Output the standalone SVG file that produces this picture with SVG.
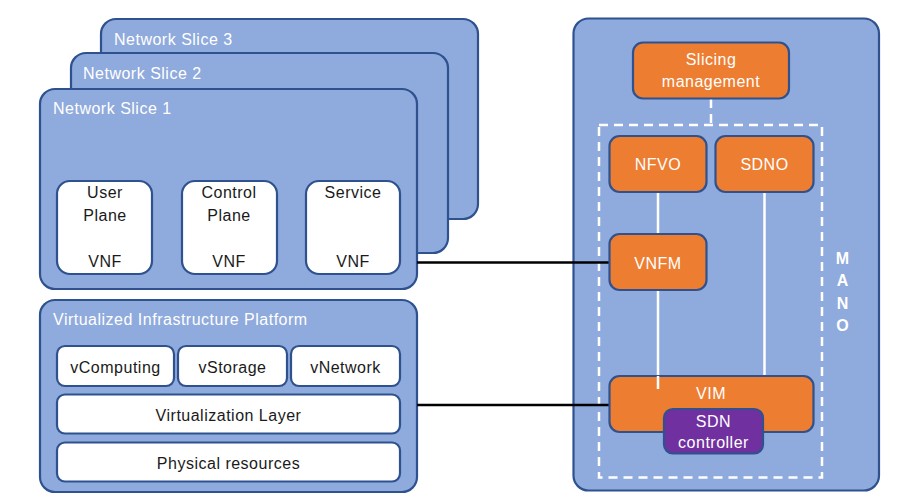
<svg xmlns="http://www.w3.org/2000/svg" width="913" height="500" viewBox="0 0 913 500">
<style>
text{font-family:"Liberation Sans",Arial,sans-serif;font-size:16px;letter-spacing:0.5px}
.blue{fill:#8FAADC;stroke:#2F528F;stroke-width:2.2}
.wbox{fill:#FFFFFF;stroke:#2F528F;stroke-width:2.2}
.obox{fill:#ED7D31;stroke:#2F528F;stroke-width:2.2}
.pbox{fill:#7030A0;stroke:#2F528F;stroke-width:2.2}
.lt{fill:#FFFFFF}
.dk{fill:#1A1A1A;text-anchor:middle}
.wt{fill:#FFFFFF;text-anchor:middle}
.mano{fill:#FFFFFF;text-anchor:middle;font-weight:bold;font-size:16px;letter-spacing:0}
.wline{stroke:#FFFFFF;stroke-width:2.5;fill:none}
.dash{stroke:#FFFFFF;stroke-width:2.5;fill:none;stroke-dasharray:9 6}
.bline{stroke:#000000;stroke-width:2.5;fill:none}
</style>
<rect width="913" height="500" fill="#FFFFFF"/>
<g id="slice3"><rect class="blue" x="101" y="19" width="377" height="200" rx="15"/><text class="lt" x="114" y="45">Network Slice 3</text></g>
<g id="slice2"><rect class="blue" x="71" y="53" width="377" height="200" rx="15"/><text class="lt" x="83" y="79">Network Slice 2</text></g>
<g id="slice1"><rect class="blue" x="40" y="89" width="377" height="200" rx="15"/><text class="lt" x="53" y="114">Network Slice 1</text></g>
<g id="vnf-user"><rect class="wbox" x="57" y="181" width="95" height="93" rx="13"/><text class="dk" x="105" y="198">User</text><text class="dk" x="105" y="221">Plane</text><text class="dk" x="105" y="267">VNF</text></g>
<g id="vnf-control"><rect class="wbox" x="182" y="181" width="95" height="93" rx="13"/><text class="dk" x="229" y="198">Control</text><text class="dk" x="229" y="221">Plane</text><text class="dk" x="229" y="267">VNF</text></g>
<g id="vnf-service"><rect class="wbox" x="306" y="181" width="94" height="93" rx="13"/><text class="dk" x="353" y="198">Service</text><text class="dk" x="353" y="267">VNF</text></g>
<g id="vip"><rect class="blue" x="40" y="300" width="377" height="192" rx="15"/><text class="lt" x="53" y="325">Virtualized Infrastructure Platform</text></g>
<g id="vcomputing"><rect class="wbox" x="57" y="346" width="117" height="40" rx="8"/><text class="dk" x="115.5" y="373">vComputing</text></g>
<g id="vstorage"><rect class="wbox" x="178" y="346" width="109" height="40" rx="8"/><text class="dk" x="232.5" y="373">vStorage</text></g>
<g id="vnetwork"><rect class="wbox" x="291" y="346" width="109" height="40" rx="8"/><text class="dk" x="345.5" y="373">vNetwork</text></g>
<g id="virt-layer"><rect class="wbox" x="57" y="394.5" width="343" height="39" rx="8"/><text class="dk" x="228.5" y="421">Virtualization Layer</text></g>
<g id="phys"><rect class="wbox" x="57" y="442.5" width="343" height="39" rx="8"/><text class="dk" x="228.5" y="468.5">Physical resources</text></g>
<g id="mano-panel"><rect class="blue" x="573.5" y="18.5" width="305.5" height="472" rx="15"/></g>
<g id="mano-frame"><rect class="dash" x="599" y="125" width="223" height="352.5"/><text class="mano" x="842.5" y="263.5">M</text><text class="mano" x="842.5" y="286">A</text><text class="mano" x="842.5" y="308.5">N</text><text class="mano" x="842.5" y="331">O</text></g>
<g id="connectors">
<line class="dash" x1="711" y1="99" x2="711" y2="125"/>
<line class="wline" x1="658" y1="192" x2="658" y2="234"/>
<line class="wline" x1="658" y1="290" x2="658" y2="389"/>
<line class="wline" x1="764.5" y1="192" x2="764.5" y2="376"/>
<line class="bline" x1="417" y1="262.5" x2="609" y2="262.5"/>
<line class="bline" x1="417" y1="405" x2="609" y2="405"/>
</g>
<g id="slicing"><rect class="obox" x="633" y="42.5" width="156" height="56" rx="10"/><text class="wt" x="711" y="65">Slicing</text><text class="wt" x="711" y="87">management</text></g>
<g id="nfvo"><rect class="obox" x="609.5" y="136" width="97" height="56" rx="10"/><text class="wt" x="658" y="170">NFVO</text></g>
<g id="sdno"><rect class="obox" x="715.5" y="136" width="98" height="56" rx="10"/><text class="wt" x="764.5" y="170">SDNO</text></g>
<g id="vnfm"><rect class="obox" x="609.5" y="234" width="97" height="56" rx="10"/><text class="wt" x="658" y="268.5">VNFM</text></g>
<g id="vim"><rect class="obox" x="609.5" y="376" width="204" height="56" rx="10"/><text class="wt" x="711" y="398.5">VIM</text></g>
<line class="wline" x1="658" y1="376" x2="658" y2="389"/>
<g id="sdn"><rect class="pbox" x="664" y="409" width="99" height="44.5" rx="9"/><text class="wt" x="713.5" y="427">SDN</text><text class="wt" x="713.5" y="448">controller</text></g>
</svg>
